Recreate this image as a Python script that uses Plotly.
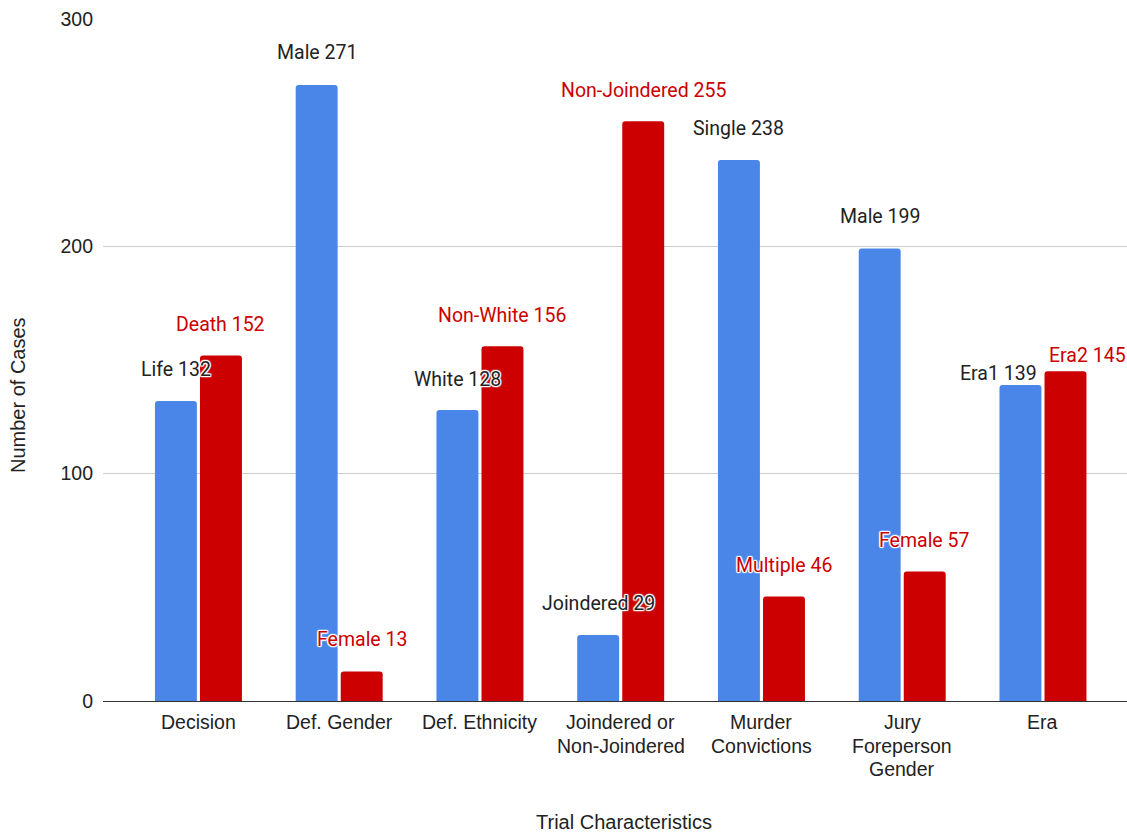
import plotly.graph_objects as go

# Trial characteristics: each category has a blue and a red series value
categories = ["Decision", "Def. Gender", "Def. Ethnicity", "Joindered or\nNon-Joindered",
              "Murder\nConvictions", "Jury\nForeperson\nGender", "Era"]
blue_names = ["Life", "Male", "White", "Joindered", "Single", "Male", "Era1"]
blue_values = [132, 271, 128, 29, 238, 199, 139]
red_names = ["Death", "Female", "Non-White", "Non-Joindered", "Multiple", "Female", "Era2"]
red_values = [152, 13, 156, 255, 46, 57, 145]

BLUE = "#4a86e8"
RED = "#cc0000"
LABEL_FONT = "Roboto"
AXIS_FONT = "Liberation Sans"
TEXT = "#222222"

W, H = 1127, 834
L, R, T, B = 103, 0, 19, 133
pw, ph = W - L - R, H - T - B

x_idx = list(range(len(categories)))
bar_w = 0.298
blue_off = -0.309
red_off = 0.011

# pixel nudges for the data labels (dx, dy above bar top)
blue_nudge = [(0, 31), (0, 32), (0, 31), (0, 32), (0, 31), (0, 32), (-22, 12)]
red_nudge = [(0, 31), (0, 32), (0, 31), (0, 31), (0, 31), (0, 31), (22, 16)]

fig = go.Figure()
fig.add_trace(go.Bar(x=x_idx, y=blue_values, width=bar_w, offset=blue_off,
                     marker=dict(color=BLUE, line=dict(width=0), cornerradius=3),
                     showlegend=False, hoverinfo="y"))
fig.add_trace(go.Bar(x=x_idx, y=red_values, width=bar_w, offset=red_off,
                     marker=dict(color=RED, line=dict(width=0), cornerradius=3),
                     showlegend=False, hoverinfo="y"))

halo = ("white 1px 1px 1px, white -1px -1px 1px, white 1px -1px 1px, white -1px 1px 1px, "
        "white 0px 1px 1px, white 0px -1px 1px, white 1px 0px 1px, white -1px 0px 1px")

annotations = []
for names, values, off, nudge, color in (
        (blue_names, blue_values, blue_off, blue_nudge, TEXT),
        (red_names, red_values, red_off, red_nudge, RED)):
    for i, (nm, v) in enumerate(zip(names, values)):
        dx, dy = nudge[i]
        annotations.append(dict(x=i + off + bar_w / 2, y=v, xref="x", yref="y",
                                text=f"{nm} {v}", showarrow=False, xanchor="center",
                                yanchor="middle", xshift=dx, yshift=dy,
                                font=dict(family=LABEL_FONT, size=19.5, color=color,
                                          shadow=halo)))

# category labels, one annotation per line so the line spacing stays tight
line_step = 23.5
first_line = 722 - (H - B)  # pixels below the baseline
for i, cat in enumerate(categories):
    for k, line in enumerate(cat.split("\n")):
        annotations.append(dict(x=i, y=0, xref="x", yref="paper", text=line,
                                showarrow=False, xanchor="center", yanchor="middle",
                                yshift=-(first_line + k * line_step),
                                font=dict(family=AXIS_FONT, size=19.5, color=TEXT)))

# axis titles
annotations.append(dict(text="Trial Characteristics", x=(624 - L) / pw, y=-(822 - (H - B)) / ph,
                        xref="paper", yref="paper", xanchor="center", yanchor="middle",
                        showarrow=False, font=dict(family=AXIS_FONT, size=20, color=TEXT)))
annotations.append(dict(text="Number of Cases", x=(18 - L) / pw, y=((H - B) - 395) / ph,
                        xref="paper", yref="paper", xanchor="center", yanchor="middle",
                        textangle=-90, showarrow=False,
                        font=dict(family=AXIS_FONT, size=20, color=TEXT)))

fig.update_layout(
    width=W, height=H,
    margin=dict(l=L, r=R, t=T, b=B),
    plot_bgcolor="white", paper_bgcolor="white",
    barmode="overlay",
    font=dict(family=AXIS_FONT, size=19.5, color=TEXT),
    xaxis=dict(range=[-0.678, 6.597], tickvals=x_idx, showticklabels=False,
               showgrid=False, showline=True, linecolor="#333333", linewidth=1.2,
               ticks="", fixedrange=True),
    yaxis=dict(range=[0, 300], dtick=100, showgrid=True, gridcolor="#cccccc",
               gridwidth=1, zeroline=False, ticks="", ticklabelstandoff=9,
               tickfont=dict(family=AXIS_FONT, size=19.5, color=TEXT)),
    annotations=annotations,
)

fig.write_html("out.html")
